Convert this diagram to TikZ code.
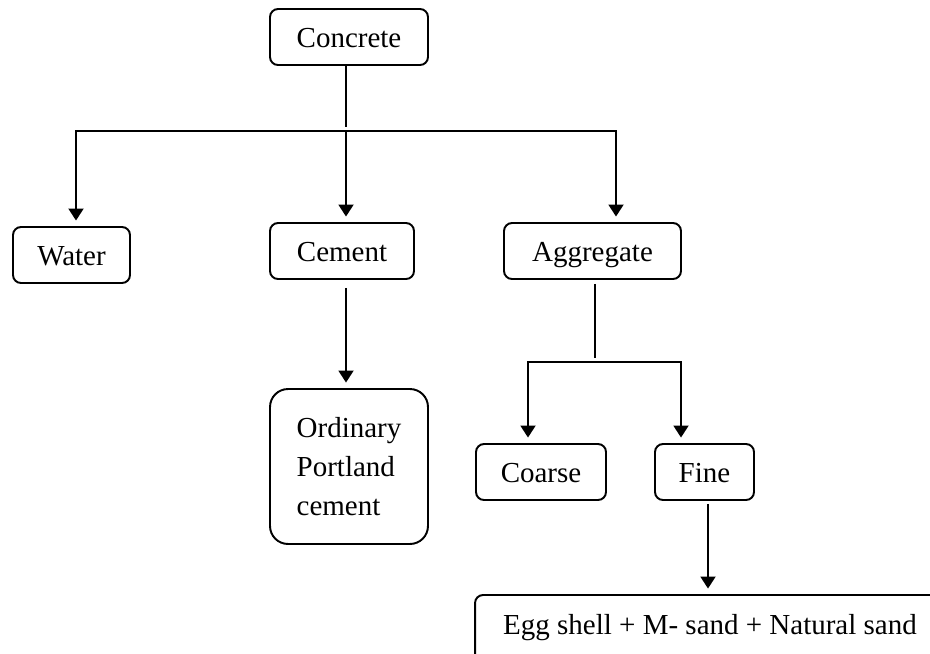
\documentclass[tikz,border=0pt]{standalone}
\usepackage{fontspec}
\setmainfont{Liberation Serif}
\usetikzlibrary{arrows.meta}

\begin{document}
\begin{tikzpicture}[x=0.02cm, y=-0.02cm,
  box/.style={draw, line width=1.1pt, rounded corners=0.16cm, inner sep=0pt,
    font=\fontsize{16.5pt}{22pt}\selectfont},
  onebox/.style={box, minimum height=1.12cm, text height=12.4pt, text depth=0pt},
  link/.style={line width=1.1pt},
  arr/.style={link, -{Triangle[length=0.24cm, width=0.3cm]}, shorten >=0.11cm},
  arrboth/.style={link, {Triangle[length=0.24cm, width=0.3cm]}-{Triangle[length=0.24cm, width=0.3cm]},
    shorten >=0.11cm, shorten <=0.11cm}]
  \useasboundingbox (0,0) rectangle (930,653);
  \clip (0,0) rectangle (930,653);
  %% Boxes
  \node[onebox, minimum width=3.16cm] (concrete) at (349,37) {Concrete};
  \node[onebox, minimum width=2.34cm] (water) at (71.5,255) {Water};
  \node[onebox, minimum width=2.88cm] (cement) at (342,251) {Cement};
  \node[onebox, minimum width=3.54cm] (aggr) at (592.5,251) {Aggregate};
  \node[box, minimum width=3.16cm, minimum height=3.1cm, rounded corners=0.36cm, align=left]
    (opc) at (349,466.5) {Ordinary\\Portland\\cement};
  \node[onebox, minimum width=2.6cm] (coarse) at (541,472) {Coarse};
  \node[onebox, minimum width=1.98cm] (fine) at (704.5,472) {Fine};
  \node[onebox, minimum width=9.4cm, minimum height=1.4cm, text depth=6.8pt] (egg) at (710,630)
    {Egg shell + M- sand + Natural sand\hspace{0.09cm}};
  %% Split points
  \coordinate (split) at (346,131);
  \coordinate (wsplit) at (76,131);
  \coordinate (asplit) at (616,131);
  \coordinate (gsplit) at (595,362);
  \coordinate (csplit) at (528,362);
  \coordinate (fsplit) at (681,362);
  \coordinate (eline) at (708,503);
  %% Concrete to its parts
  \draw[link, shorten >=0.08cm] (concrete.south -| split) -- (split);
  \draw[arrboth] (wsplit |- water.north) -- (wsplit) -- (asplit) -- (asplit |- aggr.north);
  \draw[arr] (split) -- (split |- cement.north);
  \draw[arr, shorten <=0.16cm] (cement.south -| split) -- (opc.north -| split);
  %% Aggregate to its parts
  \draw[link, shorten <=0.08cm, shorten >=0.08cm] (aggr.south -| gsplit) -- (gsplit);
  \draw[arrboth] (csplit |- coarse.north) -- (csplit) -- (fsplit) -- (fsplit |- fine.north);
  \draw[arr, shorten <=0.06cm] (fine.south -| eline) -- (egg.north -| eline);
\end{tikzpicture}
\end{document}
